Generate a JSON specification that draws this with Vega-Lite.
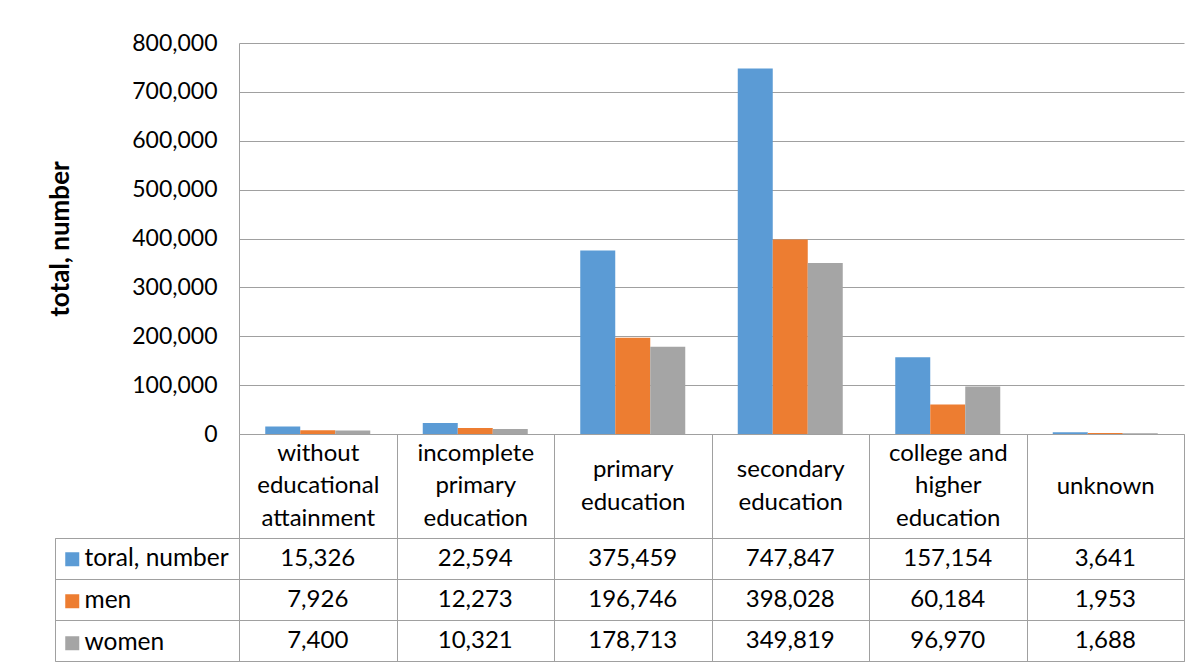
{
  "$schema": "https://vega.github.io/schema/vega-lite/v6.json",
  "padding": {"left": 47, "top": 32, "right": 4, "bottom": 0},
  "background": "white",
  "datasets": {
    "d": [
      {"category": "without educational attainment", "series": "toral, number", "value": 15326},
      {"category": "incomplete primary education", "series": "toral, number", "value": 22594},
      {"category": "primary education", "series": "toral, number", "value": 375459},
      {"category": "secondary education", "series": "toral, number", "value": 747847},
      {"category": "college and higher education", "series": "toral, number", "value": 157154},
      {"category": "unknown", "series": "toral, number", "value": 3641},
      {"category": "without educational attainment", "series": "men", "value": 7926},
      {"category": "incomplete primary education", "series": "men", "value": 12273},
      {"category": "primary education", "series": "men", "value": 196746},
      {"category": "secondary education", "series": "men", "value": 398028},
      {"category": "college and higher education", "series": "men", "value": 60184},
      {"category": "unknown", "series": "men", "value": 1953},
      {"category": "without educational attainment", "series": "women", "value": 7400},
      {"category": "incomplete primary education", "series": "women", "value": 10321},
      {"category": "primary education", "series": "women", "value": 178713},
      {"category": "secondary education", "series": "women", "value": 349819},
      {"category": "college and higher education", "series": "women", "value": 96970},
      {"category": "unknown", "series": "women", "value": 1688}
    ]
  },
  "columns": 2,
  "align": "each",
  "bounds": "flush",
  "spacing": {"row": 104, "column": 0},
  "resolve": {
    "scale": {"x": "independent", "y": "independent"},
    "axis": {"x": "independent", "y": "independent"},
    "legend": {"color": "independent"}
  },
  "concat": [
    {
      "width": 184,
      "height": 391,
      "view": {"stroke": null},
      "data": {"values": [{"a": 1}]},
      "mark": {"type": "text", "text": ""},
      "encoding": {}
    },
    {
      "width": 945,
      "height": 391,
      "view": {"stroke": null},
      "data": {"name": "d"},
      "mark": {"type": "bar"},
      "encoding": {
        "x": {
          "field": "category",
          "type": "nominal",
          "sort": ["without educational attainment", "incomplete primary education", "primary education", "secondary education", "college and higher education", "unknown"],
          "scale": {"paddingInner": 0, "paddingOuter": 0},
          "axis": {
            "title": null,
            "labelAngle": 0,
            "labelExpr": "!isValid(datum.value) ? '' : datum.value == 'college and higher education' ? ['college and', 'higher', 'education'] : split(datum.value, ' ')",
            "labelLineHeight": 32.5,
            "labelBaseline": "middle",
            "labelPadding": {
              "condition": [
                {"test": "datum.value == 'primary education' || datum.value == 'secondary education'", "value": -68.25},
                {"test": "datum.value == 'unknown'", "value": -52}
              ],
              "value": -85
            },
            "labelFontSize": 24,
            "labelColor": "#000000",
            "labelLimit": 300,
            "labelOverlap": false,
            "ticks": true,
            "tickBand": "extent",
            "tickSize": 104,
            "tickColor": "#a0a0a0",
            "domainColor": "#a0a0a0",
            "grid": false
          }
        },
        "xOffset": {
          "field": "series",
          "type": "nominal",
          "sort": ["toral, number", "men", "women"],
          "scale": {"paddingInner": 0, "paddingOuter": 0.75}
        },
        "y": {
          "field": "value",
          "type": "quantitative",
          "scale": {"domain": [0, 800000], "nice": false},
          "axis": {
            "values": [0, 100000, 200000, 300000, 400000, 500000, 600000, 700000, 800000],
            "format": ",d",
            "title": "total, number",
            "titleFontSize": 26,
            "titleFontWeight": "bold",
            "titleColor": "#000000",
            "titlePadding": 58,
            "labelFontSize": 23,
            "labelColor": "#000000",
            "labelPadding": 22,
            "ticks": false,
            "domain": true,
            "domainColor": "#a0a0a0",
            "grid": true,
            "gridColor": "#a0a0a0"
          }
        },
        "color": {
          "field": "series",
          "type": "nominal",
          "sort": ["toral, number", "men", "women"],
          "scale": {"domain": ["toral, number", "men", "women"], "range": ["#5B9BD5", "#ED7D31", "#A5A5A5"]},
          "legend": null
        }
      }
    },
    {
      "width": 184,
      "height": 123,
      "view": {"stroke": "#a0a0a0"},
      "data": {"name": "d"},
      "mark": {"type": "point", "filled": true, "opacity": 0},
      "encoding": {
        "y": {
          "field": "series",
          "type": "nominal",
          "sort": ["toral, number", "men", "women"],
          "scale": {"type": "band", "paddingInner": 0, "paddingOuter": 0},
          "axis": {"title": null, "labels": false, "ticks": false, "domain": false, "grid": true, "tickBand": "extent", "gridColor": "#a0a0a0"}
        },
        "color": {
          "field": "series",
          "type": "nominal",
          "sort": ["toral, number", "men", "women"],
          "scale": {"domain": ["toral, number", "men", "women"], "range": ["#5B9BD5", "#ED7D31", "#A5A5A5"]},
          "legend": {
            "title": null,
            "orient": "top-left",
            "offset": 9,
            "padding": 0,
            "symbolType": "square",
            "symbolSize": 196,
            "symbolStrokeWidth": 0,
            "symbolOpacity": 1,
            "symbolOffset": -4,
            "labelFontSize": 24.5,
            "labelFont": "Lato",
            "labelColor": "#000000",
            "labelOffset": 0,
            "labelLimit": 300,
            "rowPadding": 17
          }
        }
      }
    },
    {
      "width": 945,
      "height": 123,
      "view": {"stroke": "#a0a0a0"},
      "data": {"name": "d"},
      "mark": {"type": "text", "fontSize": 24, "font": "Lato", "color": "#000000", "align": "center", "baseline": "middle"},
      "encoding": {
        "x": {
          "field": "category",
          "type": "nominal",
          "sort": ["without educational attainment", "incomplete primary education", "primary education", "secondary education", "college and higher education", "unknown"],
          "scale": {"paddingInner": 0, "paddingOuter": 0},
          "axis": {"title": null, "labels": false, "ticks": false, "domain": false, "grid": true, "tickBand": "extent", "gridColor": "#a0a0a0"}
        },
        "y": {
          "field": "series",
          "type": "nominal",
          "sort": ["toral, number", "men", "women"],
          "scale": {"paddingInner": 0, "paddingOuter": 0},
          "axis": {"title": null, "labels": false, "ticks": false, "domain": false, "grid": true, "tickBand": "extent", "gridColor": "#a0a0a0"}
        },
        "text": {"field": "value", "type": "quantitative", "format": ",d"}
      }
    }
  ],
  "config": {
    "font": "Lato",
    "axis": {"labelFont": "Lato", "titleFont": "Lato"},
    "legend": {"labelFont": "Lato"}
  }
}
